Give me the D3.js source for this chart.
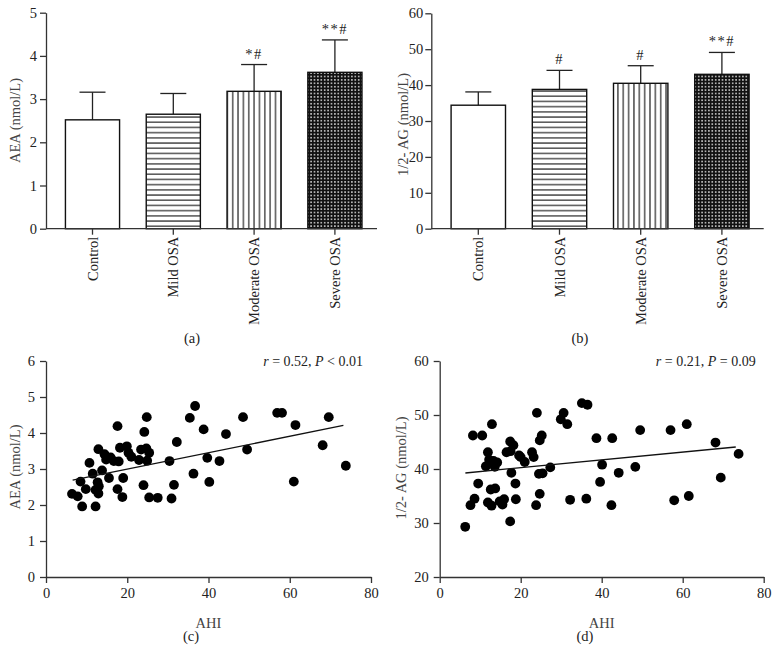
<!DOCTYPE html>
<html><head><meta charset="utf-8">
<script src="https://cdn.jsdelivr.net/npm/d3@7"></script>
<style>
body{margin:0;background:#fff;}
svg{display:block;font-family:"Liberation Serif","Times New Roman",serif;}
</style>
</head><body>
<svg id="chart" width="777" height="650"></svg>
<script>
// ---------- DATA ----------
const barCategories = ["Control", "Mild OSA", "Moderate OSA", "Severe OSA"];
const aeaMeans = [2.52, 2.65, 3.18, 3.62];
const aeaSD = [0.64, 0.48, 0.62, 0.75];
const aeaSig = ["", "", "*#", "**#"];
const aeaTicks = [0, 1, 2, 3, 4, 5];

const agMeans = [34.4, 38.8, 40.5, 43.0];
const agSD = [3.7, 5.3, 4.9, 6.1];
const agSig = ["", "#", "#", "**#"];
const agTicks = [0, 10, 20, 30, 40, 50, 60];

const ahiC = [6.4, 7.8, 8.5, 8.9, 9.8, 10.7, 11.5, 12.2, 12.2, 12.7, 13.0, 12.9, 12.9, 13.8, 14.4, 14.8, 15.5, 15.9, 16.7, 17.6, 17.6, 17.9, 18.2, 19.0, 18.8, 19.9, 20.3, 21.0, 22.9, 23.4, 24.0, 24.2, 24.8, 24.7, 24.9, 25.4, 25.4, 27.5, 30.4, 30.9, 31.5, 32.2, 35.4, 36.3, 36.7, 38.8, 39.7, 40.2, 42.7, 44.3, 48.5, 49.5, 56.9, 58.1, 61.0, 61.4, 68.1, 69.6, 73.8];
const aeaC = [2.31, 2.24, 2.65, 1.96, 2.44, 3.17, 2.87, 2.42, 1.96, 2.63, 2.52, 2.32, 3.55, 2.96, 3.41, 3.26, 2.75, 3.32, 3.22, 4.19, 2.44, 3.21, 3.59, 2.75, 2.22, 3.63, 3.45, 3.34, 3.25, 3.54, 2.55, 4.03, 4.44, 3.57, 3.23, 3.45, 2.21, 2.20, 3.22, 2.18, 2.56, 3.75, 4.42, 2.87, 4.75, 4.10, 3.31, 2.64, 3.22, 3.97, 4.44, 3.54, 4.56, 4.56, 2.65, 4.22, 3.66, 4.44, 3.09];
const fitC = [[6.56, 2.69], [73.2, 4.21]];
const statC = ["r = 0.52, ", "P < 0.01"];
const xTicksScatter = [0, 20, 40, 60, 80];
const yTicksC = [0, 1, 2, 3, 4, 5, 6];

const ahiD = [6.3, 7.6, 8.2, 8.6, 9.5, 10.5, 11.4, 11.9, 11.9, 12.2, 12.8, 13.3, 13.6, 14.2, 12.6, 12.9, 12.8, 13.7, 14.8, 15.5, 15.9, 16.5, 17.4, 17.5, 17.4, 17.7, 18.2, 18.7, 18.8, 19.6, 20.0, 21.0, 22.8, 23.2, 24.0, 23.8, 24.7, 24.5, 24.7, 25.2, 25.4, 27.3, 29.9, 30.6, 31.5, 32.2, 35.1, 36.5, 36.2, 38.7, 39.6, 40.1, 42.4, 42.6, 44.2, 48.3, 49.5, 57.0, 57.9, 61.0, 61.5, 68.1, 69.4, 73.8];
const agD = [29.3, 33.3, 46.2, 34.5, 37.3, 46.2, 40.5, 43.1, 33.8, 41.7, 41.2, 41.5, 40.4, 41.2, 36.2, 48.3, 33.2, 36.4, 34.0, 33.4, 34.4, 43.1, 45.1, 43.3, 30.3, 39.3, 44.4, 37.3, 34.4, 42.5, 42.2, 41.3, 43.1, 42.2, 50.4, 33.3, 35.4, 39.1, 45.3, 46.2, 39.2, 40.3, 49.2, 50.4, 48.3, 34.3, 52.2, 51.9, 34.5, 45.7, 37.6, 40.8, 33.3, 45.7, 39.3, 40.4, 47.2, 47.2, 34.2, 48.3, 35.0, 44.9, 38.4, 42.8];
const fitD = [[6.34, 39.26], [73.1, 44.07]];
const statD = ["r = 0.21, ", "P = 0.09"];
const yTicksD = [20, 30, 40, 50, 60];

// ---------- SETUP ----------
const svg = d3.select("#chart");
const defs = svg.append("defs");
const AXIS = "#333";
const TICKTXT = "#222";
const TITLE = "#444";
const FS = "14.5px";

// patterns for bars
const pH = defs.append("pattern").attr("id", "pHoriz").attr("patternUnits", "userSpaceOnUse")
  .attr("width", 6).attr("height", 5.2);
pH.append("rect").attr("width", 6).attr("height", 5.2).attr("fill", "#fff");
pH.append("rect").attr("x", 0).attr("y", 2.1).attr("width", 6).attr("height", 1.1).attr("fill", "#111");

const pV = defs.append("pattern").attr("id", "pVert").attr("patternUnits", "userSpaceOnUse")
  .attr("width", 5.35).attr("height", 6);
pV.append("rect").attr("width", 5.35).attr("height", 6).attr("fill", "#fff");
pV.append("rect").attr("x", 2.1).attr("y", 0).attr("width", 1.1).attr("height", 6).attr("fill", "#111");

const pC = defs.append("pattern").attr("id", "pCheck").attr("patternUnits", "userSpaceOnUse")
  .attr("width", 3.4).attr("height", 3.4);
pC.append("rect").attr("width", 3.4).attr("height", 3.4).attr("fill", "#111");
pC.append("rect").attr("x", 1.0).attr("y", 1.0).attr("width", 1.4).attr("height", 1.4).attr("fill", "#fff");

const barFills = ["#fff", "url(#pHoriz)", "url(#pVert)", "url(#pCheck)"];

function styleAxis(g) {
  g.selectAll("path").attr("stroke", AXIS).attr("stroke-width", 1.3);
  g.selectAll("line").attr("stroke", AXIS).attr("stroke-width", 1.3);
  g.selectAll("text").attr("fill", TICKTXT).style("font-size", FS)
    .style("font-family", '"Liberation Serif","Times New Roman",serif');
}

// ---------- BAR PANELS ----------
function barPanel(o) {
  const g = svg.append("g");
  const y = d3.scaleLinear().domain([o.ticks[0], o.ticks[o.ticks.length - 1]]).range([o.yBottom, o.yTop]);
  const x = d3.scaleBand().domain(barCategories).range([o.bandStart, o.bandEnd])
    .paddingInner(0.33).paddingOuter(0.165);

  // error bars (upper)
  const capW = 26;
  barCategories.forEach((c, i) => {
    const cx = x(c) + x.bandwidth() / 2;
    g.append("line").attr("x1", cx).attr("x2", cx)
      .attr("y1", y(o.means[i])).attr("y2", y(o.means[i] + o.sd[i]))
      .attr("stroke", "#222").attr("stroke-width", 1.3);
    g.append("line").attr("x1", cx - capW / 2).attr("x2", cx + capW / 2)
      .attr("y1", y(o.means[i] + o.sd[i])).attr("y2", y(o.means[i] + o.sd[i]))
      .attr("stroke", "#222").attr("stroke-width", 1.3);
    if (o.sig[i]) {
      g.append("text").attr("x", cx).attr("y", y(o.means[i] + o.sd[i]) - 6)
        .attr("text-anchor", "middle").attr("fill", "#222")
        .style("font-size", FS).style("letter-spacing", "1.5px")
        .text(o.sig[i]);
    }
  });

  // bars
  g.selectAll("rect.bar").data(o.means).enter().append("rect")
    .attr("x", (d, i) => x(barCategories[i]))
    .attr("y", d => y(d))
    .attr("width", x.bandwidth())
    .attr("height", d => y(o.ticks[0]) - y(d))
    .attr("fill", (d, i) => barFills[i])
    .attr("stroke", "#111").attr("stroke-width", 1.4);

  // y axis
  const ya = g.append("g").attr("transform", `translate(${o.axisX},0)`)
    .call(d3.axisLeft(y).tickValues(o.ticks).tickFormat(d3.format("d"))
      .tickSize(6).tickSizeOuter(0).tickPadding(o.yPad));
  styleAxis(ya);

  // x axis line + ticks
  g.append("line").attr("x1", o.axisX).attr("x2", o.axisEnd)
    .attr("y1", o.yBottom).attr("y2", o.yBottom)
    .attr("stroke", AXIS).attr("stroke-width", 1.3);
  barCategories.forEach(c => {
    const cx = x(c) + x.bandwidth() / 2;
    g.append("line").attr("x1", cx).attr("x2", cx)
      .attr("y1", o.yBottom).attr("y2", o.yBottom + 6)
      .attr("stroke", AXIS).attr("stroke-width", 1.3);
    g.append("text")
      .attr("transform", `translate(${cx},${o.yBottom + 8}) rotate(-90)`)
      .attr("text-anchor", "end").attr("dy", "0.35em")
      .attr("fill", TICKTXT).style("font-size", FS)
      .text(c);
  });

  // y label
  g.append("text")
    .attr("transform", `translate(${o.ylabelX},${o.ylabelY}) rotate(-90)`)
    .attr("text-anchor", "middle").attr("dy", "0.35em")
    .attr("fill", TITLE).style("font-size", FS)
    .text(o.ylabel);

  // panel label
  g.append("text").attr("x", o.panelX).attr("y", 343)
    .attr("text-anchor", "middle").attr("fill", "#222").style("font-size", FS)
    .text(o.panel);
}

barPanel({
  means: aeaMeans, sd: aeaSD, sig: aeaSig, ticks: aeaTicks,
  axisX: 46, axisEnd: 377, yTop: 12.7, yBottom: 228.7,
  bandStart: 52.1, bandEnd: 375.3, yPad: 3,
  ylabel: "AEA (nmol/L)", ylabelX: 15, ylabelY: 120.5,
  panel: "(a)", panelX: 192
});

barPanel({
  means: agMeans, sd: agSD, sig: agSig, ticks: agTicks,
  axisX: 431.3, axisEnd: 763.7, yTop: 13.3, yBottom: 228.7,
  bandStart: 437.7, bandEnd: 762.5, yPad: 2,
  ylabel: "1/2- AG (nmol/L)", ylabelX: 403, ylabelY: 124.5,
  panel: "(b)", panelX: 580
});

// ---------- SCATTER PANELS ----------
function scatterPanel(o) {
  const g = svg.append("g");
  const x = d3.scaleLinear().domain([0, 80]).range([o.axisX, o.axisEnd]);
  const y = d3.scaleLinear().domain([o.yTicks[0], o.yTicks[o.yTicks.length - 1]]).range([577, 361]);

  const xa = g.append("g").attr("transform", "translate(0,577)")
    .call(d3.axisBottom(x).tickValues(xTicksScatter).tickFormat(d3.format("d"))
      .tickSize(6).tickSizeOuter(0).tickPadding(5));
  styleAxis(xa);
  const ya = g.append("g").attr("transform", `translate(${o.axisX},0)`)
    .call(d3.axisLeft(y).tickValues(o.yTicks).tickFormat(d3.format("d"))
      .tickSize(6).tickSizeOuter(0).tickPadding(5));
  styleAxis(ya);

  // points
  g.selectAll("circle").data(o.xs).enter().append("circle")
    .attr("cx", d => x(d))
    .attr("cy", (d, i) => y(o.ys[i]))
    .attr("r", 4.9)
    .attr("fill", "#000");

  // regression line
  g.append("path")
    .attr("d", d3.line().x(d => x(d[0])).y(d => y(d[1]))(o.fit))
    .attr("stroke", "#111").attr("stroke-width", 1.3).attr("fill", "none");

  // stats
  const t = g.append("text").attr("x", o.axisEnd - 8).attr("y", 366)
    .attr("text-anchor", "end").attr("fill", "#222").style("font-size", "14px");
  t.append("tspan").style("font-style", "italic").text("r");
  t.append("tspan").text(o.stat[0].slice(1));
  t.append("tspan").style("font-style", "italic").text("P");
  t.append("tspan").text(o.stat[1].slice(1));

  // labels
  g.append("text").attr("x", (o.axisX + o.axisEnd) / 2).attr("y", 628)
    .attr("text-anchor", "middle").attr("fill", TITLE).style("font-size", FS)
    .text("AHI");
  g.append("text")
    .attr("transform", `translate(${o.ylabelX},${o.ylabelY}) rotate(-90)`)
    .attr("text-anchor", "middle").attr("dy", "0.35em")
    .attr("fill", TITLE).style("font-size", FS)
    .text(o.ylabel);
  g.append("text").attr("x", o.panelX).attr("y", 641)
    .attr("text-anchor", "middle").attr("fill", "#222").style("font-size", FS)
    .text(o.panel);
}

scatterPanel({
  xs: ahiC, ys: aeaC, fit: fitC, stat: statC, yTicks: yTicksC,
  axisX: 46, axisEnd: 371,
  ylabel: "AEA (nmol/L)", ylabelX: 15, ylabelY: 467,
  panel: "(c)", panelX: 191
});

scatterPanel({
  xs: ahiD, ys: agD, fit: fitD, stat: statD, yTicks: yTicksD,
  axisX: 439.7, axisEnd: 763.7,
  ylabel: "1/2- AG (nmol/L)", ylabelX: 401, ylabelY: 468,
  panel: "(d)", panelX: 585
});
</script>
</body></html>
